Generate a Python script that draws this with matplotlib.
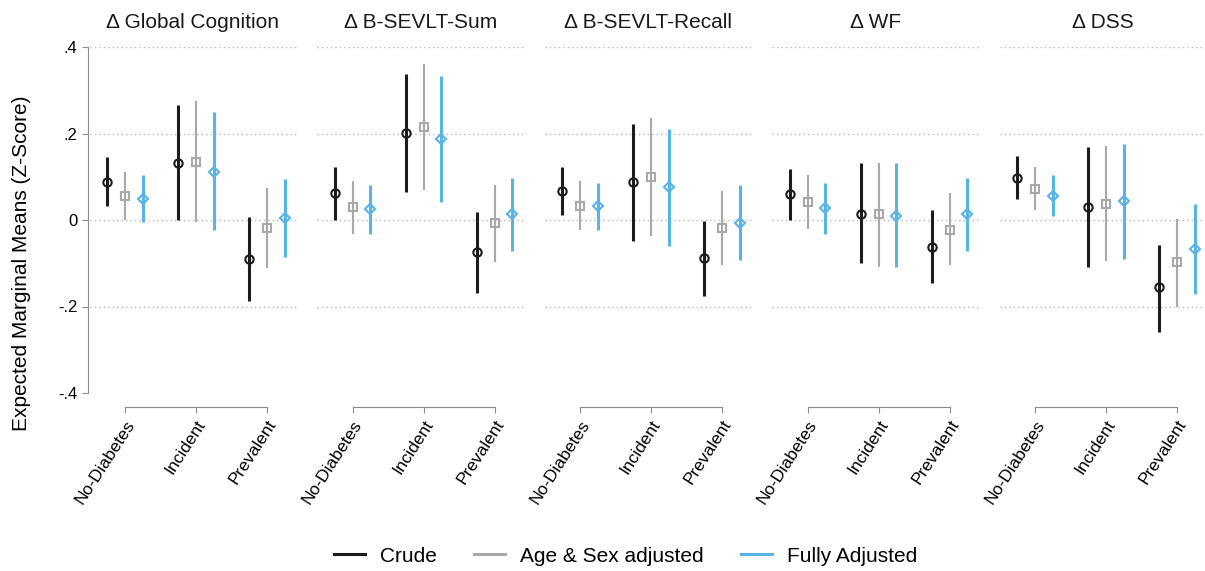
import numpy as np
import matplotlib
matplotlib.use("Agg")
import matplotlib.pyplot as plt
from matplotlib.lines import Line2D

plt.rcParams['font.family'] = ['Liberation Sans', 'DejaVu Sans']

outcomes = ["Δ Global Cognition", "Δ B-SEVLT-Sum", "Δ B-SEVLT-Recall", "Δ WF", "Δ DSS"]
categories = ["No-Diabetes", "Incident", "Prevalent"]
models = ["Crude", "Age & Sex adjusted", "Fully Adjusted"]

# rows = outcomes, cols = categories
crude_est = np.array([[0.088, 0.132, -0.090],
                      [0.062, 0.202, -0.075],
                      [0.066, 0.088, -0.088],
                      [0.059, 0.015, -0.062],
                      [0.098, 0.031, -0.156]])
crude_lo = np.array([[0.032, 0.000, -0.188],
                     [0.000, 0.065, -0.169],
                     [0.012, -0.048, -0.175],
                     [0.000, -0.100, -0.145],
                     [0.048, -0.108, -0.258]])
crude_hi = np.array([[0.146, 0.265, 0.006],
                     [0.123, 0.338, 0.018],
                     [0.123, 0.221, -0.002],
                     [0.119, 0.131, 0.022],
                     [0.148, 0.169, -0.058]])

age_est = np.array([[0.056, 0.135, -0.018],
                    [0.029, 0.215, -0.008],
                    [0.033, 0.100, -0.019],
                    [0.042, 0.013, -0.022],
                    [0.072, 0.037, -0.098]])
age_lo = np.array([[0.000, -0.005, -0.110],
                   [-0.032, 0.069, -0.098],
                   [-0.023, -0.036, -0.104],
                   [-0.021, -0.109, -0.105],
                   [0.022, -0.095, -0.200]])
age_hi = np.array([[0.112, 0.275, 0.075],
                   [0.090, 0.360, 0.082],
                   [0.090, 0.235, 0.067],
                   [0.104, 0.131, 0.062],
                   [0.122, 0.171, 0.002]])

full_est = np.array([[0.048, 0.112, 0.004],
                     [0.025, 0.188, 0.014],
                     [0.032, 0.077, -0.006],
                     [0.027, 0.009, 0.013],
                     [0.056, 0.044, -0.067]])
full_lo = np.array([[-0.005, -0.023, -0.085],
                    [-0.032, 0.042, -0.072],
                    [-0.023, -0.059, -0.092],
                    [-0.032, -0.109, -0.071],
                    [0.010, -0.091, -0.171]])
full_hi = np.array([[0.105, 0.250, 0.094],
                    [0.082, 0.334, 0.098],
                    [0.086, 0.211, 0.081],
                    [0.086, 0.131, 0.096],
                    [0.105, 0.175, 0.037]])

yticks = [0.4, 0.2, 0.0, -0.2, -0.4]
yticklabels = [".4", ".2", "0", "-.2", "-.4"]
gridvals = [0.4, 0.2, 0.0, -0.2]

colors = ["#1c1c1c", "#a8a8a8", "#58b3e6"]
markers = ["o", "s", "D"]
msizes = [6.0, 6.0, 5.0]
lws = [2.2, 1.5, 2.2]
offsets = [-0.25, 0.0, 0.25]
series = [(crude_est, crude_lo, crude_hi),
          (age_est, age_lo, age_hi),
          (full_est, full_lo, full_hi)]

W, H = 1205, 571
fig = plt.figure(figsize=(W / 100, H / 100), dpi=100)

ax_top, ax_bot = 47, 393
pw = 207
x = np.arange(1, 4)
for i, title in enumerate(outcomes):
    left = 89.5 + 227.5 * i
    ax = fig.add_axes([left / W, 1 - ax_bot / H, pw / W, (ax_bot - ax_top) / H])
    ax.set_xlim(0.5, 0.5 + pw / 71.0)
    ax.set_ylim(-0.4, 0.4)
    for g in gridvals:
        ax.axhline(g, color="#b8b8b8", lw=1.0, ls=(0, (1, 2.2)), zorder=0)
    for k, (est, lo, hi) in enumerate(series):
        xs = x + offsets[k]
        ax.vlines(xs, lo[i], hi[i], color=colors[k], lw=lws[k], zorder=2)
        ax.plot(xs, est[i], ls="none", marker=markers[k], ms=msizes[k],
                mfc="none", mec=colors[k], mew=1.5, zorder=3)
    ax.set_title(title, fontsize=15, pad=14, color="#1a1a1a")
    for s in ["top", "right"]:
        ax.spines[s].set_visible(False)
    ax.spines["bottom"].set_position(("outward", 10))
    ax.spines["bottom"].set_bounds(1, 3)
    ax.spines["bottom"].set_color("#8c8c8c")
    ax.set_xticks(x)
    ax.set_xticklabels(categories, rotation=57, ha="right", va="top",
                       rotation_mode="anchor", fontsize=12.5)
    ax.tick_params(axis="x", length=4.5, color="#8c8c8c", pad=3)
    if i == 0:
        ax.spines["left"].set_position(("outward", 1))
        ax.spines["left"].set_bounds(-0.4, 0.4)
        ax.spines["left"].set_color("#8c8c8c")
        ax.set_yticks(yticks)
        ax.set_yticklabels(yticklabels, fontsize=12)
        ax.tick_params(axis="y", length=4.5, color="#8c8c8c", pad=3)
    else:
        ax.spines["left"].set_visible(False)
        ax.set_yticks([])

fig.text(22 / W, 1 - 263 / H, "Expected Marginal Means (Z-Score)",
         rotation=90, ha="center", va="center", fontsize=15)

handles = [Line2D([], [], color=colors[k], lw=2.2) for k in range(3)]
fig.legend(handles, models, loc="center", bbox_to_anchor=(0.519, 1 - 556 / H),
           ncol=3, frameon=False, fontsize=15, handlelength=1.5,
           columnspacing=1.8, handletextpad=0.7)

fig.savefig("out.png", dpi=100, facecolor="white")
